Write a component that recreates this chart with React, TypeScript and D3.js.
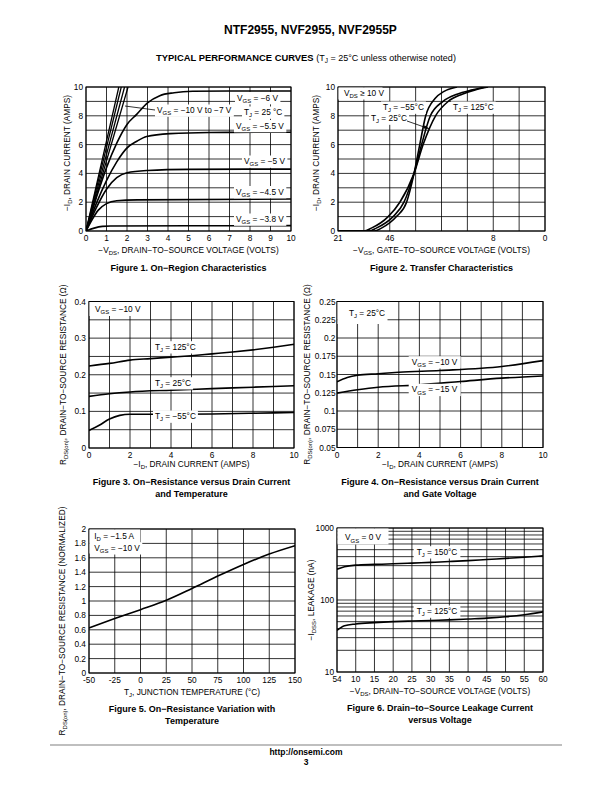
import React, { useLayoutEffect, useRef, useState } from "react";
import * as d3 from "d3";

const FONT = "'Liberation Sans', Arial, Helvetica, sans-serif";
const FS = 8.3;

type Pt = [number, number];

// ---------- Figure 1 ----------
const f1Grid = [0, 1, 2, 3, 4, 5, 6, 7, 8, 9, 10];
const f1XTicks = [0, 1, 2, 3, 4, 5, 6, 7, 8, 9, 10];
const f1YTicks = [0, 2, 4, 6, 8, 10];
const f1SteepTops = [1.6, 1.72, 1.88, 2.05];
const f1Vgs6: Pt[] = [[0, 0], [0.5, 2.3], [1, 4.4], [1.5, 6.1], [2, 7.4], [2.47, 8.1], [3, 8.9], [3.6, 9.4], [4.3, 9.6], [5.2, 9.7], [7, 9.72], [10, 9.72]];
const f1Vgs55: Pt[] = [[0, 0], [0.5, 1.9], [1, 3.5], [1.5, 4.8], [1.98, 5.74], [2.5, 6.25], [2.96, 6.56], [4.1, 6.76], [6, 6.84], [10, 6.86]];
const f1Vgs5: Pt[] = [[0, 0], [0.5, 1.6], [1, 2.9], [1.5, 3.7], [2, 4.05], [3, 4.2], [5, 4.28], [10, 4.3]];
const f1Vgs45: Pt[] = [[0, 0], [0.3, 0.8], [0.6, 1.45], [1, 1.9], [1.5, 2.1], [2.5, 2.16], [10, 2.22]];
const f1Vgs38: Pt[] = [[0, 0], [0.4, 0.2], [0.8, 0.32], [1.2, 0.35], [10, 0.37]];

// ---------- Figure 2 ----------
const f2XGrid = [0, 1, 2, 3, 4, 5, 6, 7, 8];
const f2YGrid = [0, 1, 2, 3, 4, 5, 6, 7, 8, 9, 10];
const f2XTicks = [0, 2, 6, 8];
const f2XTickLabels = ["21", "46", "8", "0"];
const f2YTicks = [0, 2, 4, 6, 8, 10];
const f2T125: Pt[] = [[0, 0], [1.0, 0], [1.29, 0.2], [1.94, 1], [2.39, 2], [2.94, 4], [3.29, 6], [3.77, 8], [4.26, 9], [4.8, 9.5], [5.3, 9.8], [5.8, 10]];
const f2T25: Pt[] = [[0, 0], [1.2, 0], [1.48, 0.2], [2.13, 1], [2.55, 2], [2.94, 4], [3.23, 6], [3.57, 8], [4.06, 9], [4.6, 9.5], [5.2, 9.8], [5.7, 10]];
const f2Tm55: Pt[] = [[0, 0], [1.4, 0], [1.68, 0.2], [2.26, 1], [2.65, 2], [2.94, 4], [3.16, 6], [3.39, 8], [3.75, 9.2], [4.1, 9.7], [4.6, 10]];

// ---------- Figure 3 ----------
const f3XGrid = [0, 1, 2, 3, 4, 5, 6, 7, 8, 9, 10];
const f3XTicks = [0, 2, 4, 6, 8, 10];
const f3YGrid = [0, 0.05, 0.1, 0.15, 0.2, 0.25, 0.3, 0.35, 0.4];
const f3YTicks = [0, 0.1, 0.2, 0.3, 0.4];
const f3T125: Pt[] = [[0, 0.224], [1, 0.231], [2, 0.24], [3, 0.244], [4, 0.248], [5, 0.252], [6, 0.257], [7, 0.262], [8, 0.268], [9, 0.275], [10, 0.283]];
const f3T25: Pt[] = [[0, 0.141], [1, 0.148], [2, 0.153], [4, 0.158], [6, 0.162], [8, 0.166], [10, 0.17]];
const f3Tm55: Pt[] = [[0, 0.048], [0.5, 0.062], [1, 0.079], [1.5, 0.089], [2, 0.092], [4, 0.092], [6, 0.093], [8, 0.095], [10, 0.097]];

// ---------- Figure 4 ----------
const f4YGrid = [0.05, 0.075, 0.1, 0.125, 0.15, 0.175, 0.2, 0.225, 0.25];
const f4YTickLabels = ["0.05", "0.075", "0.1", "0.125", "0.15", "0.175", "0.2", "0.225", "0.25"];
const f4V10: Pt[] = [[0, 0.14], [0.5, 0.146], [1, 0.149], [2, 0.151], [3, 0.153], [5, 0.1555], [8, 0.161], [10, 0.169]];
const f4V15: Pt[] = [[0, 0.1245], [1, 0.129], [2, 0.1326], [4, 0.1358], [6, 0.1404], [8, 0.145], [10, 0.148]];

// ---------- Figure 5 ----------
const f5XGrid = [-50, -25, 0, 25, 50, 75, 100, 125, 150];
const f5YGrid = [0, 0.2, 0.4, 0.6, 0.8, 1, 1.2, 1.4, 1.6, 1.8, 2];
const f5Curve: Pt[] = [[-50, 0.625], [-25, 0.756], [0, 0.88], [25, 1.01], [50, 1.174], [75, 1.346], [100, 1.508], [125, 1.652], [150, 1.768]];

// ---------- Figure 6 ----------
const f6XGrid = [5, 10, 15, 20, 25, 30, 35, 40, 45, 50, 55, 60];
const f6XTickLabels = ["54", "10", "15", "20", "25", "30", "35", "0", "45", "50", "55", "60"];
const f6YGrid = [10, 20, 30, 40, 50, 60, 70, 80, 90, 100, 200, 300, 400, 500, 600, 700, 800, 900, 1000];
const f6YTicks = [10, 100, 1000];
const f6T150: Pt[] = [[5, 268], [7, 290], [10, 305], [15, 312], [20, 318], [25, 325], [30, 333], [35, 342], [40, 352], [45, 365], [50, 378], [55, 393], [60, 410]];
const f6T125: Pt[] = [[5, 38], [7, 44], [10, 46.5], [15, 48.5], [20, 50], [25, 51], [30, 52], [35, 53], [40, 54.5], [45, 56], [50, 58.5], [55, 62.5], [60, 68.5]];

// ---------- helpers ----------
type Part = string | { s: string };
function rich(parts: Part[], fs: number) {
  const out: any[] = [];
  let shift = 0;
  parts.forEach((p, i) => {
    if (typeof p === "string") {
      out.push(<tspan key={i} dy={-shift}>{p}</tspan>);
      shift = 0;
    } else {
      const d = fs * 0.28;
      out.push(<tspan key={i} dy={d - shift} fontSize={fs * 0.72}>{p.s}</tspan>);
      shift = d;
    }
  });
  return out;
}

function BoxLabel({ x, y, parts, fs = FS, padX = 2, padY = 0.5, anchor = "start", box }: any) {
  const ref = useRef<SVGTextElement>(null);
  const [bb, setBb] = useState<any>(null);
  useLayoutEffect(() => {
    if (ref.current) setBb(ref.current.getBBox());
  }, []);
  return (
    <g>
      {box ? (
        <rect x={box[0]} y={box[1]} width={box[2]} height={box[3]} fill="white" />
      ) : bb ? (
        <rect x={bb.x - padX} y={bb.y - padY} width={bb.width + 2 * padX} height={bb.height + 2 * padY} fill="white" />
      ) : null}
      <text ref={ref} x={x} y={y} fontSize={fs} textAnchor={anchor}>
        {rich(parts, fs)}
      </text>
    </g>
  );
}

type PlotProps = {
  id: string;
  box: { x0: number; x1: number; y0: number; y1: number };
  xDomain: [number, number];
  yDomain: [number, number];
  log?: boolean;
  xGrid: number[];
  yGrid: number[];
  xTicks: number[];
  xTickLabels?: string[];
  yTicks: number[];
  yTickLabels?: string[];
  curves: Pt[][];
  lines?: Pt[][];
  xLabel: Part[];
  xLabelY: number;
  yLabel: Part[];
  yLabelX: number;
  yLabelY?: number;
  caption: string[];
  captionY: number;
  tickGap?: number;
};

function Plot(p: PlotProps) {
  const { box } = p;
  const xs = d3.scaleLinear().domain(p.xDomain).range([box.x0, box.x1]);
  const ys = (p.log ? d3.scaleLog() : d3.scaleLinear()).domain(p.yDomain).range([box.y1, box.y0]);
  const line = d3
    .line<Pt>()
    .x((d) => xs(d[0]))
    .y((d) => ys(d[1]))
    .curve(d3.curveMonotoneX);
  const straight = d3
    .line<Pt>()
    .x((d) => xs(d[0]))
    .y((d) => ys(d[1]));
  const cx = (box.x0 + box.x1) / 2;
  const cy = p.yLabelY ?? (box.y0 + box.y1) / 2;
  const gap = p.tickGap ?? 3;
  return (
    <g>
      <defs>
        <clipPath id={p.id}>
          <rect x={box.x0} y={box.y0} width={box.x1 - box.x0} height={box.y1 - box.y0} />
        </clipPath>
      </defs>
      {p.xGrid.map((v, i) => (
        <line key={"gx" + i} x1={xs(v)} x2={xs(v)} y1={box.y0} y2={box.y1} stroke="#000" strokeWidth={0.8} />
      ))}
      {p.yGrid.map((v, i) => (
        <line key={"gy" + i} x1={box.x0} x2={box.x1} y1={ys(v)} y2={ys(v)} stroke="#000" strokeWidth={0.8} />
      ))}
      <rect x={box.x0} y={box.y0} width={box.x1 - box.x0} height={box.y1 - box.y0} fill="none" stroke="#000" strokeWidth={1} />
      {p.xTicks.map((v, i) => (
        <text key={"tx" + i} x={xs(v)} y={box.y1 + 10} fontSize={FS} textAnchor="middle">
          {p.xTickLabels ? p.xTickLabels[i] : String(v)}
        </text>
      ))}
      {p.yTicks.map((v, i) => (
        <text key={"ty" + i} x={box.x0 - gap} y={ys(v) + 3} fontSize={FS} textAnchor="end">
          {p.yTickLabels ? p.yTickLabels[i] : String(v)}
        </text>
      ))}
      <g clipPath={`url(#${p.id})`}>
        {(p.lines || []).map((c, i) => (
          <path key={"l" + i} d={straight(c) || ""} fill="none" stroke="#000" strokeWidth={1.3} />
        ))}
        {p.curves.map((c, i) => (
          <path key={"c" + i} d={line(c) || ""} fill="none" stroke="#000" strokeWidth={1.6} />
        ))}
      </g>
      <text x={cx} y={p.xLabelY} fontSize={FS} textAnchor="middle">
        {rich(p.xLabel, FS)}
      </text>
      <text transform={`translate(${p.yLabelX},${cy}) rotate(-90)`} fontSize={FS} textAnchor="middle">
        {rich(p.yLabel, FS)}
      </text>
      {p.caption.map((c, i) => (
        <text key={"cap" + i} x={cx} y={p.captionY + i * 11.5} fontSize={9} fontWeight="bold" textAnchor="middle">
          {c}
        </text>
      ))}
    </g>
  );
}

export default function App() {
  const b1 = { x0: 86, x1: 291, y0: 87, y1: 231 };
  const b2 = { x0: 338, x1: 545, y0: 87, y1: 231 };
  const b3 = { x0: 89, x1: 294, y0: 301.5, y1: 448 };
  const b4 = { x0: 337, x1: 543, y0: 301.5, y1: 447.5 };
  const b5 = { x0: 89, x1: 295, y0: 529, y1: 673 };
  const b6 = { x0: 337, x1: 543, y0: 528, y1: 672 };
  const steep: Pt[][] = f1SteepTops.map((t) => [[0, 0], [t, 10]] as Pt[]);
  const idLabel: Part[] = ["−I", { s: "D" }, ", DRAIN CURRENT (AMPS)"];
  const rdsLabel: Part[] = ["R", { s: "DS(on)" }, ", DRAIN−TO−SOURCE RESISTANCE (Ω)"];
  return (
    <svg width={612} height={792} style={{ position: "absolute", left: 0, top: 0 }} fontFamily={FONT}>
      <rect x={0} y={0} width={612} height={792} fill="white" />
      <text x={310.5} y={33.5} fontSize={12} fontWeight="bold" textAnchor="middle">
        NTF2955, NVF2955, NVF2955P
      </text>
      <text x={306} y={61} textAnchor="middle">
        <tspan fontSize={9.4} fontWeight="bold">TYPICAL PERFORMANCE CURVES </tspan>
        <tspan fontSize={9}>(T</tspan>
        <tspan fontSize={6.5} dy={2}>J</tspan>
        <tspan fontSize={9} dy={-2}> = 25°C unless otherwise noted)</tspan>
      </text>

      {/* Figure 1 */}
      <Plot
        id="c1"
        box={b1}
        xDomain={[0, 10]}
        yDomain={[0, 10]}
        xGrid={f1Grid}
        yGrid={f1Grid}
        xTicks={f1XTicks}
        yTicks={f1YTicks}
        lines={steep}
        curves={[f1Vgs6, f1Vgs55, f1Vgs5, f1Vgs45, f1Vgs38]}
        xLabel={["−V", { s: "DS" }, ", DRAIN−TO−SOURCE VOLTAGE (VOLTS)"]}
        xLabelY={253}
        yLabel={idLabel}
        yLabelX={70}
        yLabelY={153}
        caption={["Figure 1. On−Region Characteristics"]}
        captionY={271}
      />
      <line x1={125} y1={106} x2={155} y2={110} stroke="#000" strokeWidth={0.8} />
      <BoxLabel x={157} y={113} parts={["V", { s: "GS" }, " = −10 V to −7 V"]} />
      <BoxLabel x={237} y={100.5} parts={["V", { s: "GS" }, " = −6 V"]} />
      <BoxLabel x={244} y={115} parts={["T", { s: "J" }, " = 25 °C"]} />
      <BoxLabel x={236} y={128.5} parts={["V", { s: "GS" }, " = −5.5 V"]} />
      <BoxLabel x={244} y={164} parts={["V", { s: "GS" }, " = −5 V"]} />
      <BoxLabel x={236} y={194.5} parts={["V", { s: "GS" }, " = −4.5 V"]} />
      <BoxLabel x={236} y={222} parts={["V", { s: "GS" }, " = −3.8 V"]} />

      {/* Figure 2 */}
      <Plot
        id="c2"
        box={b2}
        xDomain={[0, 8]}
        yDomain={[0, 10]}
        xGrid={f2XGrid}
        yGrid={f2YGrid}
        xTicks={f2XTicks}
        xTickLabels={f2XTickLabels}
        yTicks={f2YTicks}
        curves={[f2T125, f2T25, f2Tm55]}
        xLabel={["−V", { s: "GS" }, ", GATE−TO−SOURCE VOLTAGE (VOLTS)"]}
        xLabelY={253}
        yLabel={idLabel}
        yLabelX={319}
        yLabelY={153}
        caption={["Figure 2. Transfer Characteristics"]}
        captionY={271}
      />
      <BoxLabel x={344} y={95.5} parts={["V", { s: "DS" }, " ≥ 10 V"]} box={[338.5, 87.5, 44, 12]} />
      <BoxLabel x={383} y={110} parts={["T", { s: "J" }, " = −55°C"]} />
      <BoxLabel x={453} y={110} parts={["T", { s: "J" }, " = 125°C"]} />
      <BoxLabel x={371} y={121} parts={["T", { s: "J" }, " = 25°C"]} />
      <line x1={407} y1={121} x2={427} y2={128} stroke="#000" strokeWidth={0.8} />
      <path d="M430,129 L424.5,125.2 L423.3,128.6 Z" fill="#000" />

      {/* Figure 3 */}
      <Plot
        id="c3"
        box={b3}
        xDomain={[0, 10]}
        yDomain={[0, 0.4]}
        xGrid={f3XGrid}
        yGrid={f3YGrid}
        xTicks={f3XTicks}
        yTicks={f3YTicks}
        curves={[f3T125, f3T25, f3Tm55]}
        xLabel={idLabel}
        xLabelY={467}
        yLabel={rdsLabel}
        yLabelX={66}
        caption={["Figure 3. On−Resistance versus Drain Current", "and Temperature"]}
        captionY={485}
      />
      <BoxLabel x={95} y={312} parts={["V", { s: "GS" }, " = −10 V"]} box={[89.5, 302, 46, 14]} />
      <BoxLabel x={155} y={349.7} parts={["T", { s: "J" }, " = 125°C"]} />
      <BoxLabel x={155} y={385.7} parts={["T", { s: "J" }, " = 25°C"]} />
      <BoxLabel x={155} y={419} parts={["T", { s: "J" }, " = −55°C"]} />

      {/* Figure 4 */}
      <Plot
        id="c4"
        box={b4}
        xDomain={[0, 10]}
        yDomain={[0.05, 0.25]}
        xGrid={f3XGrid}
        yGrid={f4YGrid}
        xTicks={f3XTicks}
        yTicks={f4YGrid}
        yTickLabels={f4YTickLabels}
        curves={[f4V10, f4V15]}
        xLabel={idLabel}
        xLabelY={467}
        yLabel={rdsLabel}
        yLabelX={309.5}
        tickGap={1.5}
        caption={["Figure 4. On−Resistance versus Drain Current", "and Gate Voltage"]}
        captionY={485}
      />
      <BoxLabel x={349} y={315.7} parts={["T", { s: "J" }, " = 25°C"]} box={[337.5, 302, 50, 22]} />
      <BoxLabel x={411.7} y={364.7} parts={["V", { s: "GS" }, " = −10 V"]} padX={3} />
      <BoxLabel x={411.7} y={392.3} parts={["V", { s: "GS" }, " = −15 V"]} padX={3} />

      {/* Figure 5 */}
      <Plot
        id="c5"
        box={b5}
        xDomain={[-50, 150]}
        yDomain={[0, 2]}
        xGrid={f5XGrid}
        yGrid={f5YGrid}
        xTicks={f5XGrid}
        yTicks={f5YGrid}
        curves={[f5Curve]}
        xLabel={["T", { s: "J" }, ", JUNCTION TEMPERATURE (°C)"]}
        xLabelY={695}
        yLabel={["R", { s: "DS(on)" }, ", DRAIN−TO−SOURCE RESISTANCE (NORMALIZED)"]}
        yLabelX={65}
        yLabelY={621}
        caption={["Figure 5. On−Resistance Variation with", "Temperature"]}
        captionY={712}
      />
      <rect x={89.5} y={529.5} width={51} height={24} fill="white" />
      <BoxLabel x={94.3} y={539} parts={["I", { s: "D" }, " =  −1.5 A"]} />
      <BoxLabel x={94.3} y={550.7} parts={["V", { s: "GS" }, " = −10 V"]} />

      {/* Figure 6 */}
      <Plot
        id="c6"
        box={b6}
        xDomain={[5, 60]}
        yDomain={[10, 1000]}
        log
        xGrid={f6XGrid}
        yGrid={f6YGrid}
        xTicks={f6XGrid}
        xTickLabels={f6XTickLabels}
        yTicks={f6YTicks}
        curves={[f6T150, f6T125]}
        xLabel={["−V", { s: "DS" }, ", DRAIN−TO−SOURCE VOLTAGE (VOLTS)"]}
        xLabelY={694}
        yLabel={["−I", { s: "DSS" }, ", LEAKAGE (nA)"]}
        yLabelX={314}
        yLabelY={600}
        caption={["Figure 6. Drain−to−Source Leakage Current", "versus Voltage"]}
        captionY={711}
      />
      <BoxLabel x={345} y={540.3} parts={["V", { s: "GS" }, " = 0 V"]} box={[337.5, 528.5, 51, 16]} />
      <BoxLabel x={416.7} y={554.7} parts={["T", { s: "J" }, " = 150°C"]} padX={3} />
      <BoxLabel x={416.7} y={614} parts={["T", { s: "J" }, " = 125°C"]} padX={3} />

      {/* footer */}
      <line x1={50} x2={562} y1={745} y2={745} stroke="#aaa" strokeWidth={1.5} />
      <text x={306} y={755} fontSize={8.5} fontWeight="bold" textAnchor="middle">
        http://onsemi.com
      </text>
      <text x={306} y={765} fontSize={8.5} fontWeight="bold" textAnchor="middle">
        3
      </text>
    </svg>
  );
}
